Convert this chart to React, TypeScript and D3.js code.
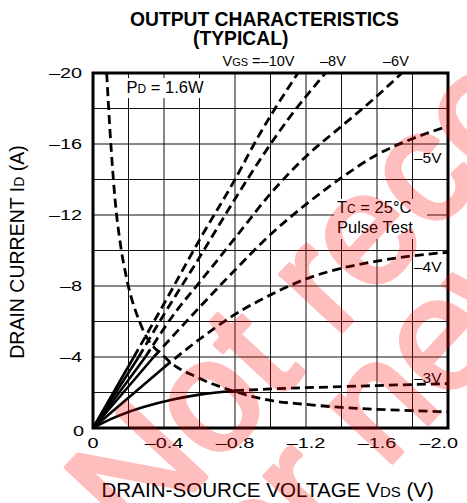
import React from 'react';
import * as d3 from 'd3';

const W = 467;
const H = 503;

// axis ticks
const xTicks = [0, -0.4, -0.8, -1.2, -1.6, -2.0];
const xTickLabels = ['0', '–0.4', '–0.8', '–1.2', '–1.6', '–2.0'];
const yTicks = [0, -4, -8, -12, -16, -20];
const yTickLabels = ['0', '–4', '–8', '–12', '–16', '–20'];

// VGS curves, [VDS, ID]; solid part from origin, then dashed part
const vgs10Solid = [[0, 0], [-0.23, -4]];
const vgs10Dashed = [[-0.23, -4], [-0.4, -7.0], [-0.6, -10.6], [-0.8, -14.0], [-0.93, -16.4], [-1.155, -20]];
const vgs8Solid = [[0, 0], [-0.257, -4]];
const vgs8Dashed = [[-0.257, -4], [-0.4, -6.4], [-0.593, -9.5], [-0.8, -12.9], [-0.94, -15.1], [-1.1, -17.4], [-1.31, -20]];
const vgs6Solid = [[0, 0], [-0.295, -4]];
const vgs6Dashed = [[-0.295, -4], [-0.47, -6.6], [-0.6, -8.2], [-0.8, -10.7], [-1.0, -13.2], [-1.2, -15.3], [-1.4, -17.0], [-1.6, -18.7], [-1.74, -20]];
const vgs5Solid = [[0, 0], [-0.342, -4]];
const vgs5Dashed = [[-0.342, -4], [-0.6, -6.8], [-0.8, -8.9], [-1.0, -10.9], [-1.2, -12.6], [-1.4, -14.1], [-1.6, -15.4], [-1.8, -16.3], [-2.0, -17.0]];
const vgs4Solid = [[0, 0], [-0.398, -3.4]];
const vgs4Dashed = [[-0.398, -3.4], [-0.6, -5.0], [-0.8, -6.4], [-1.0, -7.5], [-1.2, -8.4], [-1.4, -9.0], [-1.6, -9.4], [-1.8, -9.7], [-2.0, -9.9]];
const vgs3Solid = [[0, 0], [-0.1, -0.5], [-0.2, -0.9], [-0.3, -1.22], [-0.45, -1.6], [-0.6, -1.88], [-0.8, -2.1]];
const vgs3Dashed = [[-0.8, -2.1], [-1.0, -2.2], [-1.4, -2.33], [-1.8, -2.45], [-2.0, -2.5]];

// PD = 1.6W limit
const pdCurve = [[-0.077, -20], [-0.096, -16.7], [-0.124, -12.9], [-0.16, -10], [-0.19, -8.4], [-0.27, -5.8], [-0.42, -3.85], [-0.6, -2.8], [-0.8, -2.05], [-1.0, -1.55], [-1.2, -1.33], [-1.4, -1.16], [-1.6, -1.05], [-1.8, -0.98], [-2.0, -0.9]];

const solidCurves = [vgs10Solid, vgs8Solid, vgs6Solid, vgs5Solid, vgs4Solid, vgs3Solid];
const dashedCurves = [vgs10Dashed, vgs8Dashed, vgs6Dashed, vgs5Dashed, vgs4Dashed, vgs3Dashed, pdCurve];

const FONT = '"Liberation Sans", Arial, Helvetica, sans-serif';

export default function App() {
  const x = d3.scaleLinear().domain([0, -2]).range([93, 448]);
  const y = d3.scaleLinear().domain([0, -20]).range([428, 73]);

  const line = d3.line<number[]>()
    .x(d => x(d[0]))
    .y(d => y(d[1]))
    .curve(d3.curveMonotoneX);

  const gridX = d3.range(0, 11).map(i => -0.2 * i);
  const gridY = d3.range(0, 11).map(i => -2 * i);

  return (
    <div style={{ position: 'absolute', left: 0, top: 0 }}>
      <svg width={W} height={H} style={{ display: 'block', background: '#fff' }} fontFamily={FONT}>
        {/* grid */}
        <g stroke="#111" strokeWidth={1}>
          {gridX.map((v, i) => (
            <line key={'gx' + i} x1={x(v)} x2={x(v)} y1={y(0)} y2={y(-20)} />
          ))}
          {gridY.map((v, i) => (
            <line key={'gy' + i} x1={x(0)} x2={x(-2)} y1={y(v)} y2={y(v)} />
          ))}
        </g>

        {/* label backgrounds */}
        <rect x={122} y={78} width={90} height={20} fill="#fff" />
        <rect x={334} y={199} width={93} height={40} fill="#fff" />
        <rect x={413} y={148} width={33} height={18} fill="#fff" />
        <rect x={413} y={257} width={33} height={18} fill="#fff" />

        {/* curves */}
        <g fill="none" stroke="#000" strokeWidth={2.6}>
          {solidCurves.map((c, i) => (
            <path key={'s' + i} d={line(c) || ''} />
          ))}
          {dashedCurves.map((c, i) => (
            <path key={'d' + i} d={line(c) || ''} strokeDasharray="9 5" strokeWidth={2.8} />
          ))}
        </g>

        {/* frame */}
        <rect x={x(0)} y={y(-20)} width={x(-2) - x(0)} height={y(0) - y(-20)} fill="none" stroke="#000" strokeWidth={3} />

        {/* tick labels */}
        <g fontSize={15.5} fill="#000">
          {xTicks.map((v, i) => (
            <text key={'xt' + i}
              transform={`translate(${i === xTicks.length - 1 ? 458 : x(v)},448) scale(1.28,1)`}
              textAnchor={i === xTicks.length - 1 ? 'end' : 'middle'}>{xTickLabels[i]}</text>
          ))}
          {yTicks.map((v, i) => (
            <text key={'yt' + i} transform={`translate(${i === 0 ? 84 : 82},${y(v) + (i === 0 ? 8 : 5)}) scale(1.28,1)`} textAnchor="end">{yTickLabels[i]}</text>
          ))}
        </g>

        {/* titles */}
        <text x={130} y={26} fontSize={19.3} fontWeight="bold">OUTPUT CHARACTERISTICS</text>
        <text x={193} y={45} fontSize={19.3} fontWeight="bold">(TYPICAL)</text>

        {/* VGS labels */}
        <text x={222.5} y={66} fontSize={14.5}>V<tspan fontSize={11}>GS</tspan> =–10V</text>
        <text x={320} y={66} fontSize={14.5}>–8V</text>
        <text x={383} y={66} fontSize={14.5}>–6V</text>
        <text x={414} y={163} fontSize={15.5}>–5V</text>
        <text x={414} y={272} fontSize={15.5}>–4V</text>
        <text x={414} y={383} fontSize={15.5}>–3V</text>

        <text x={126.5} y={93} fontSize={16.5}>P<tspan fontSize={12}>D</tspan> = 1.6W</text>
        <text x={337} y={213} fontSize={16.5}>T<tspan fontSize={12}>C</tspan> = 25°C</text>
        <text x={337} y={233} fontSize={16.5}>Pulse Test</text>

        {/* axis titles */}
        <text x={101.5} y={497} fontSize={20.6}>DRAIN-SOURCE VOLTAGE  V<tspan fontSize={15}>DS</tspan> (V)</text>
        <text transform="translate(24,252) rotate(-90)" textAnchor="middle" fontSize={19.5}>DRAIN CURRENT  I<tspan fontSize={14}>D</tspan> (A)</text>

        {/* watermark */}
        <g opacity={0.25} fill="rgb(255,0,0)" stroke="rgb(255,0,0)" strokeWidth={5} strokeLinejoin="round" fontSize={158}>
          <text transform="translate(137,551) rotate(-47)">Not recommended</text>
          <text transform="translate(229,637) rotate(-47)">for new designs</text>
        </g>
      </svg>
    </div>
  );
}
